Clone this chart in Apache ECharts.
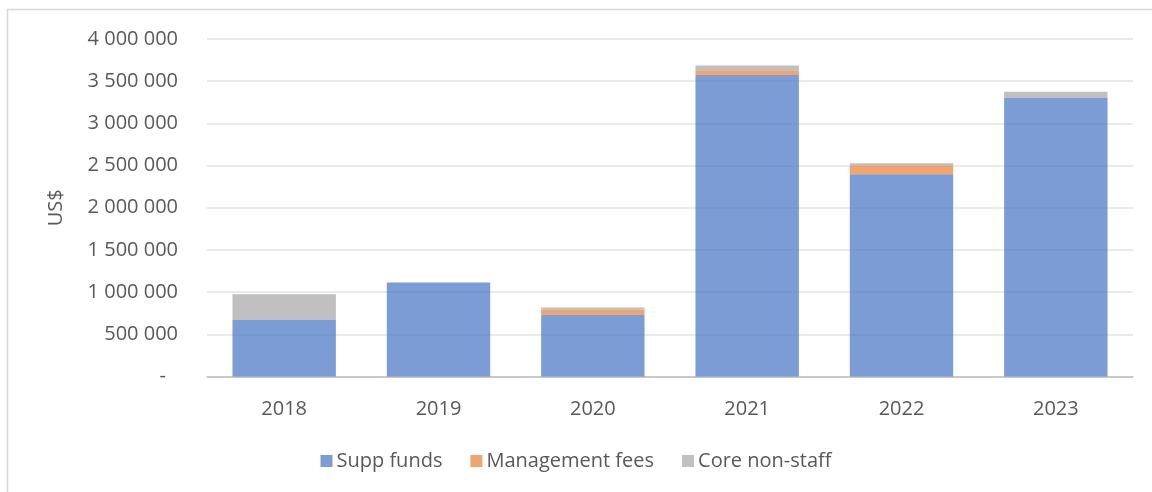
<!DOCTYPE html>
<html>
<head>
<meta charset="utf-8">
<script src="https://cdn.jsdelivr.net/npm/echarts@6/dist/echarts.min.js"></script>
<style>
  html, body { margin: 0; padding: 0; background: #fff; }
  #chart { width: 1152px; height: 492px; }
</style>
</head>
<body>
<div id="chart"></div>
<script>
// values (US$)
const years = ['2018', '2019', '2020', '2021', '2022', '2023'];
const suppFunds = [670000, 1115000, 728000, 3572000, 2396000, 3308000];
const managementFees = [0, 0, 63000, 59000, 106000, 0];
const coreNonStaff = [306000, 0, 28000, 55000, 24000, 67000];
const yTicks = [0, 500000, 1000000, 1500000, 2000000, 2500000, 3000000, 3500000, 4000000];

const textColor = '#595959';
const font = '"Open Sans", sans-serif';

// 1 000 000 style, zero shown as a dash
function fmt(v) {
  if (v === 0) return '{z|-}';
  return String(v).replace(/\B(?=(\d{3})+(?!\d))/g, ' ');
}

const chart = echarts.init(document.getElementById('chart'));

const barSeries = (name, data, color) => ({
  name: name,
  type: 'bar',
  stack: 'total',
  data: data,
  barCategoryGap: '33%',
  itemStyle: { color: color, opacity: 0.7 },
  emphasis: { disabled: true }
});

chart.setOption({
  animation: false,
  backgroundColor: '#fff',
  textStyle: { fontFamily: font },
  graphic: [{
    type: 'rect',
    shape: { x: 7.5, y: 9.5, width: 1170, height: 500 },
    style: { fill: 'none', stroke: '#d9d9d9', lineWidth: 1.5 },
    silent: true
  }],
  grid: { left: 207, right: 19, top: 39, bottom: 115.5 },
  legend: {
    bottom: 16,
    left: 'center',
    itemWidth: 12,
    itemHeight: 12,
    itemGap: 28,
    icon: 'rect',
    textStyle: { color: textColor, fontSize: 20, fontFamily: font, padding: [0, 0, 0, -1] },
    data: ['Supp funds', 'Management fees', 'Core non-staff']
  },
  xAxis: {
    type: 'category',
    data: years,
    axisTick: { show: false },
    axisLine: { lineStyle: { color: '#bfbfbf', width: 1.5 } },
    axisLabel: { color: textColor, fontSize: 20, margin: 23 }
  },
  yAxis: {
    type: 'value',
    min: yTicks[0],
    max: yTicks[yTicks.length - 1],
    interval: yTicks[1] - yTicks[0],
    name: 'US$',
    nameLocation: 'middle',
    nameGap: 141,
    nameTextStyle: { color: textColor, fontSize: 20 },
    axisLine: { show: false },
    axisTick: { show: false },
    splitLine: { lineStyle: { color: '#e3e3e3', width: 1.5 } },
    axisLabel: {
      color: textColor,
      fontSize: 20,
      margin: 29,
      formatter: fmt,
      rich: { z: { color: textColor, fontSize: 20, padding: [0, 12, 0, 0] } }
    }
  },
  series: [
    barSeries('Supp funds', suppFunds, '#4472C4'),
    barSeries('Management fees', managementFees, '#ED7D31'),
    barSeries('Core non-staff', coreNonStaff, '#A5A5A5')
  ]
});
</script>
</body>
</html>
